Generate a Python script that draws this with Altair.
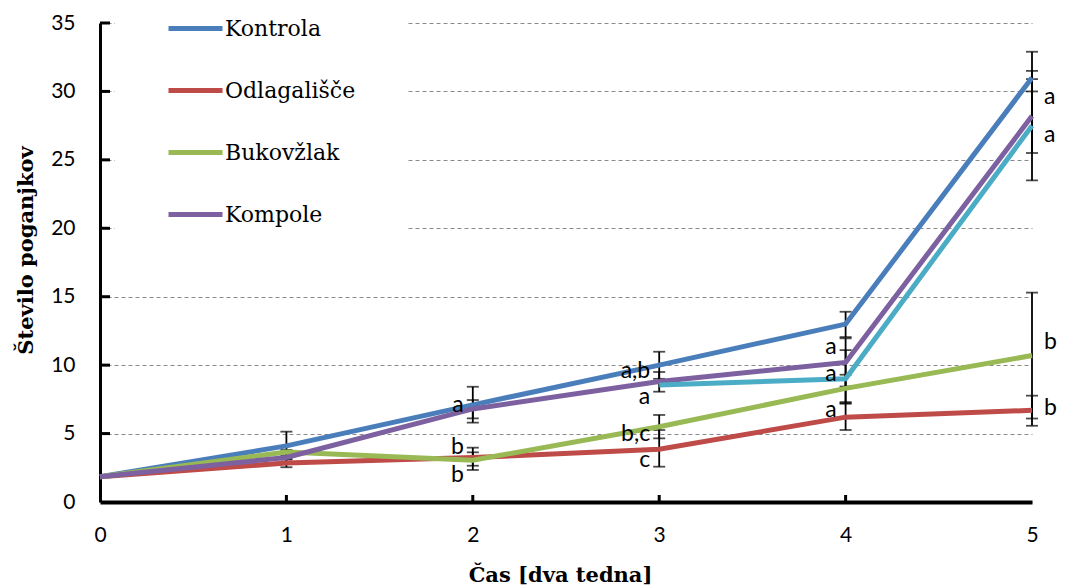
import altair as alt
import pandas as pd

# ---------------- data ----------------
weeks = [0, 1, 2, 3, 4, 5]
series_names = ["Kontrola", "Odlagališče", "Bukovžlak", "Kompole", "Serija 5"]
series_colors = ["#4A7EBB", "#BE4B48", "#98B954", "#7D60A0", "#4BACC6"]
legend_names = ["Kontrola", "Odlagališče", "Bukovžlak", "Kompole"]

kontrola = [1.85, 4.1, 7.1, 10.0, 13.0, 31.0]
odlagalisce = [1.85, 2.85, 3.25, 3.85, 6.2, 6.7]
bukovzlak = [1.85, 3.65, 3.05, 5.5, 8.3, 10.7]
kompole = [1.85, 3.25, 6.8, 8.8, 10.2, 28.2]
serija5_weeks = [3, 4, 5]
serija5 = [8.55, 9.0, 27.5]

# error bars
err_week = [1, 1, 1, 2, 2, 2, 2, 3, 3, 3, 3, 4, 4, 4, 4, 4, 5, 5, 5, 5, 5]
err_low = [3.1, 2.54, 3.4, 5.8, 2.34, 2.65, 6.11, 9.0, 2.58, 4.65, 8.06,
           12.05, 5.26, 7.3, 8.44, 7.2, 30.0, 5.57, 6.1, 25.5, 23.5]
err_high = [5.14, 3.16, 3.8, 8.42, 3.97, 3.63, 7.45, 10.98, 5.26, 6.36, 9.5,
            13.9, 7.2, 9.3, 11.96, 11.1, 32.9, 7.77, 15.3, 30.9, 31.5]

# significance letters
lab_week = [2, 2, 2, 3, 3, 3, 3, 4, 4, 4, 5, 5, 5, 5]
lab_val = [7.1, 4.05, 2.0, 9.6, 7.7, 5.0, 3.1, 11.3, 9.35, 6.7, 29.6, 26.8, 11.7, 6.85]
lab_text = ["a", "b", "b", "a,b", "a", "b,c", "c", "a", "a", "a", "a", "a", "b", "b"]

y_ticks = [0, 5, 10, 15, 20, 25, 30, 35]
x_ticks = [0, 1, 2, 3, 4, 5]
y_inner_ticks = [5, 10, 15, 20, 25, 30, 35]
x_inner_ticks = [1, 2, 3, 4]

# ---------------- tables ----------------
series_values = [kontrola, odlagalisce, bukovzlak, kompole]
rows = []
for name, vals in zip(series_names[:4], series_values):
    for w, v in zip(weeks, vals):
        rows.append({"s": name, "week": w, "val": v})
for w, v in zip(serija5_weeks, serija5):
    rows.append({"s": series_names[4], "week": w, "val": v})
lines_df = pd.DataFrame(rows)

err_df = pd.DataFrame({"week": err_week, "lo": err_low, "hi": err_high})
caps_df = pd.DataFrame({"week": err_week + err_week, "val": err_low + err_high})
lab_df = pd.DataFrame({"week": lab_week, "val": lab_val, "t": lab_text})
yt_df = pd.DataFrame({"val": y_inner_ticks})
xt_df = pd.DataFrame({"week": x_inner_ticks})

W, H = 932, 479
SERIF = "DejaVu Serif"
SANS = "Lato"

x_axis = alt.Axis(values=x_ticks, format="d", tickSize=0, labelPadding=22,
                  labelFont=SANS, labelFontSize=21, labelColor="black",
                  labelFlush=False, labelOverlap=False,
                  domainColor="black", domainWidth=4, grid=False,
                  title="Čas [dva tedna]", titleFont=SERIF,
                  titleFontSize=21, titleFontWeight="bold", titleColor="black",
                  titleX=460, titleY=73, titleBaseline="middle", titleAlign="center")
y_axis = alt.Axis(values=y_ticks, format="d", tickSize=0, labelPadding=25,
                  labelFont=SANS, labelFontSize=21, labelColor="black",
                  labelFlush=False, labelOverlap=False,
                  domainColor="black", domainWidth=3,
                  grid=True, gridColor="#8a8a8a", gridDash=[4, 3], gridWidth=1,
                  title="Število poganjkov", titleFont=SERIF,
                  titleFontSize=21, titleFontWeight="bold", titleColor="black",
                  titleX=-74, titleY=227, titleAngle=270,
                  titleBaseline="middle", titleAlign="center")

xs = alt.Scale(domain=[0, 5], nice=False)
ys = alt.Scale(domain=[0, 35], nice=False)

X = alt.X("week:Q", scale=xs, axis=x_axis)
Y = alt.Y("val:Q", scale=ys, axis=y_axis)

color_enc = alt.Color(
    "s:N",
    scale=alt.Scale(domain=series_names, range=series_colors),
    legend=alt.Legend(orient="none", legendX=15, legendY=-75, title=None,
                      values=legend_names, symbolType="stroke",
                      symbolStrokeWidth=5, symbolSize=2916,
                      labelFont=SERIF, labelFontSize=22,
                      labelColor="black", labelOffset=0, labelLimit=0,
                      rowPadding=21, padding=51, fillColor="white"),
)

err_rules = alt.Chart(err_df).mark_rule(color="black", strokeWidth=1.8).encode(
    x=X, y=alt.Y("lo:Q", scale=ys, axis=y_axis), y2="hi:Q")
err_caps = alt.Chart(caps_df).mark_tick(orient="horizontal", size=12, thickness=1.8,
                                        color="black").encode(x=X, y=Y)

line_layers = []
for name in series_names:
    line_layers.append(
        alt.Chart(lines_df[lines_df.s == name]).mark_line(strokeWidth=5).encode(
            x=X, y=Y, color=color_enc))

ytick_marks = alt.Chart(yt_df).mark_rule(color="black", strokeWidth=3).encode(
    y=Y, x=alt.value(0), x2=alt.value(10))
xtick_marks = alt.Chart(xt_df).mark_rule(color="black", strokeWidth=3).encode(
    x=X, y=alt.value(H - 7), y2=alt.value(H))

labels_left = alt.Chart(lab_df[lab_df.week < 5]).mark_text(
    align="right", baseline="middle", dx=-9, font=SANS, fontSize=23,
    color="black").encode(x=X, y=Y, text="t:N")
labels_right = alt.Chart(lab_df[lab_df.week == 5]).mark_text(
    align="left", baseline="middle", dx=12, font=SANS, fontSize=23,
    color="black").encode(x=X, y=Y, text="t:N")

chart = alt.layer(
    ytick_marks, xtick_marks, err_rules, err_caps, *line_layers,
    labels_left, labels_right
).properties(
    width=W, height=H,
    autosize=alt.AutoSizeParams(type="none"),
    padding={"left": 100, "top": 23, "right": 33, "bottom": 85},
    background="white",
).configure_view(stroke=None)

chart.save("out.html", embed_options={"renderer": "svg", "actions": False})
